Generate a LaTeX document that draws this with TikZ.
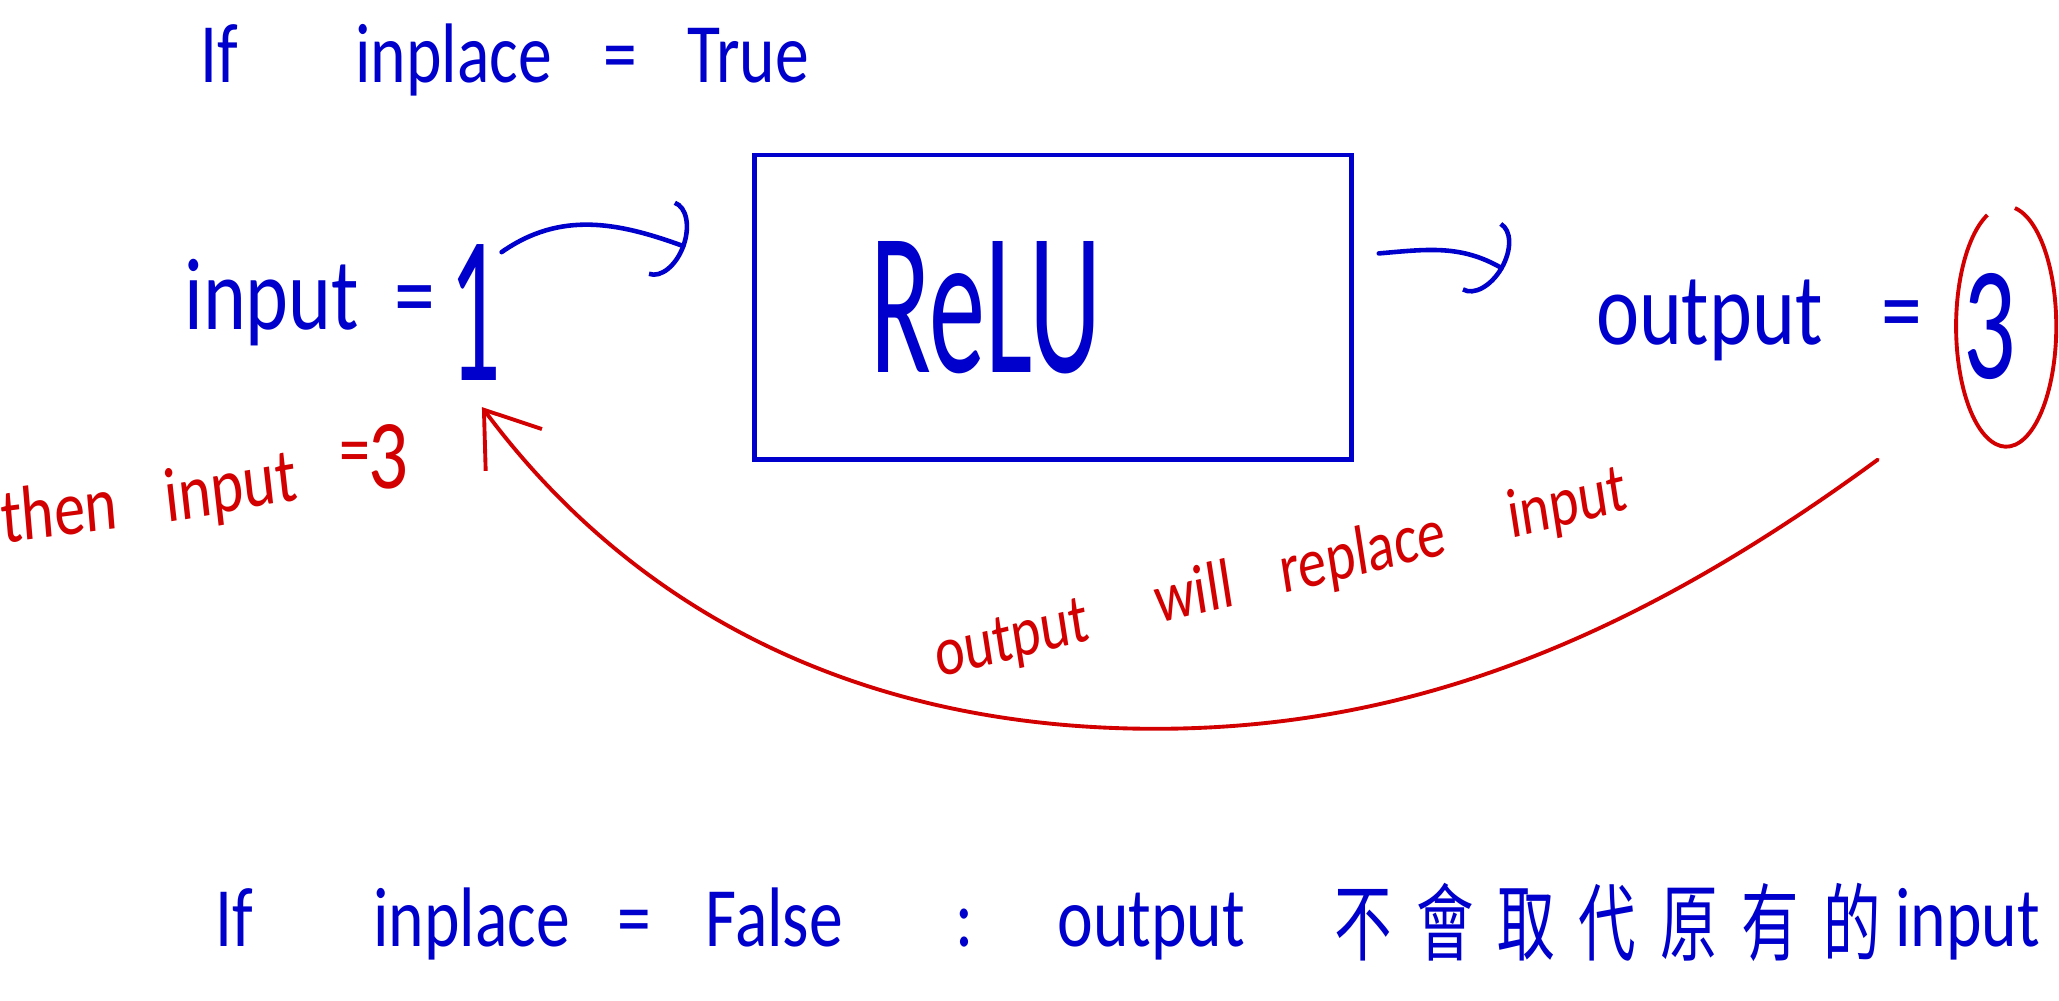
\documentclass[tikz,border=0pt]{standalone}
\usepackage{fontspec}
\setmainfont{Carlito}
\newfontfamily\cjkfont{Noto Sans CJK TC}
\usetikzlibrary{arrows.meta}
\definecolor{inkblue}{RGB}{0,0,205}
\definecolor{inkred}{RGB}{210,0,0}

\begin{document}
\begin{tikzpicture}[x=0.0131cm, y=0.0131cm,
    ink/.style={inner sep=0pt, anchor=base west, xscale=0.8},
    blueword/.style={ink, text=inkblue, font=\fontsize{24}{28}\selectfont},
    bigword/.style={ink, text=inkblue, font=\fontsize{29}{34}\selectfont},
    redword/.style={ink, text=inkred, font=\fontsize{22}{26}\selectfont},
    hanzi/.style={ink, xscale=0.85, text=inkblue, font=\cjkfont\fontsize{24}{28}\selectfont},
    flow/.style={inkblue, line width=1.3pt, line cap=round, -{Arc Barb[length=2.5mm, width=8mm]}},
    back/.style={inkred, line width=1.1pt, line cap=round, -{Straight Barb[length=5mm, width=7mm]}}]

  \useasboundingbox[fill=white] (0, 0) rectangle (1568, 762);

  % inplace = True
  \node[blueword] (if1) at (152, 699) {If};
  \node[blueword] (inplace1) at (270, 699) {inplace};
  \node[blueword] (eq1) at (459, 699) {=};
  \node[blueword] (true) at (523, 699) {True};

  \node[bigword] (input) at (140, 511) {input};
  \node[bigword] (eq2) at (300, 511) {=};
  \node[bigword, anchor=base, xscale=0.6, font=\fontsize{60}{60}\selectfont] (one) at (362, 472) {1};

  \node[draw=inkblue, line width=1.4pt, minimum width=5.96cm, minimum height=3.04cm,
        inner sep=0pt, text=inkblue, font=\fontsize{58}{58}\selectfont]
    (relu) at (802, 528) {\scalebox{0.55}[1]{ReLU}\hspace*{1.34cm}};

  \node[bigword] (output) at (1215, 500) {output};
  \node[bigword] (eq3) at (1432, 500) {=};
  \node[bigword, anchor=base, xscale=0.8, font=\fontsize{46}{46}\selectfont] (three) at (1515, 474) {3};

  \coordinate (a1 from) at (382, 570);
  \coordinate (a1 to) at (522, 574);
  \coordinate (a2 from) at (1050, 569);
  \coordinate (a2 to) at (1145, 557);
  \draw[flow] (a1 from) to[out=35, in=160] (a1 to);
  \draw[flow] (a2 from) to[out=5, in=150] (a2 to);

  % output goes back into input
  \draw[inkred, line width=1.1pt]
    ([shift={(-0.02cm, 1.11cm)}]three.center) arc[start angle=112, end angle=440, x radius=0.5cm, y radius=1.2cm];

  \coordinate (back from) at (1430, 412);
  \coordinate (back low) at (880, 207);
  \coordinate (back to) at (367, 452);
  \draw[back] (back from) .. controls (1250, 280) and (1080, 207) .. (back low)
    .. controls (650, 207) and (480, 300) .. (back to);

  \node[redword, rotate=6] (then) at (2, 348) {then};
  \node[redword, rotate=8] (input red) at (127, 364) {input};
  \node[redword] (eq red) at (258, 400) {=};
  \node[redword, font=\fontsize{28}{28}\selectfont] (three red) at (280, 390) {3};

  \node[redword, rotate=11, font=\fontsize{20}{24}\selectfont] (replace)
    at (714, 246) {output\hspace{0.85cm}will\hspace{0.6cm}replace\hspace{0.8cm}input};

  % inplace = False
  \node[blueword] (if2) at (164, 41) {If};
  \node[blueword] (inplace2) at (284, 41) {inplace};
  \node[blueword] (eq4) at (470, 41) {=};
  \node[blueword] (false) at (537, 41) {False};
  \node[blueword] (colon) at (727, 41) {:};
  \node[blueword] (output2) at (805, 41) {output};
  \foreach \c [count=\i from 0] in {不, 會, 取, 代, 原, 有, 的}
    \node[hanzi] (zh\i) at ({1016 + 62*\i}, 35) {\c};
  \node[blueword] (input2) at (1443, 41) {input};

\end{tikzpicture}
\end{document}
